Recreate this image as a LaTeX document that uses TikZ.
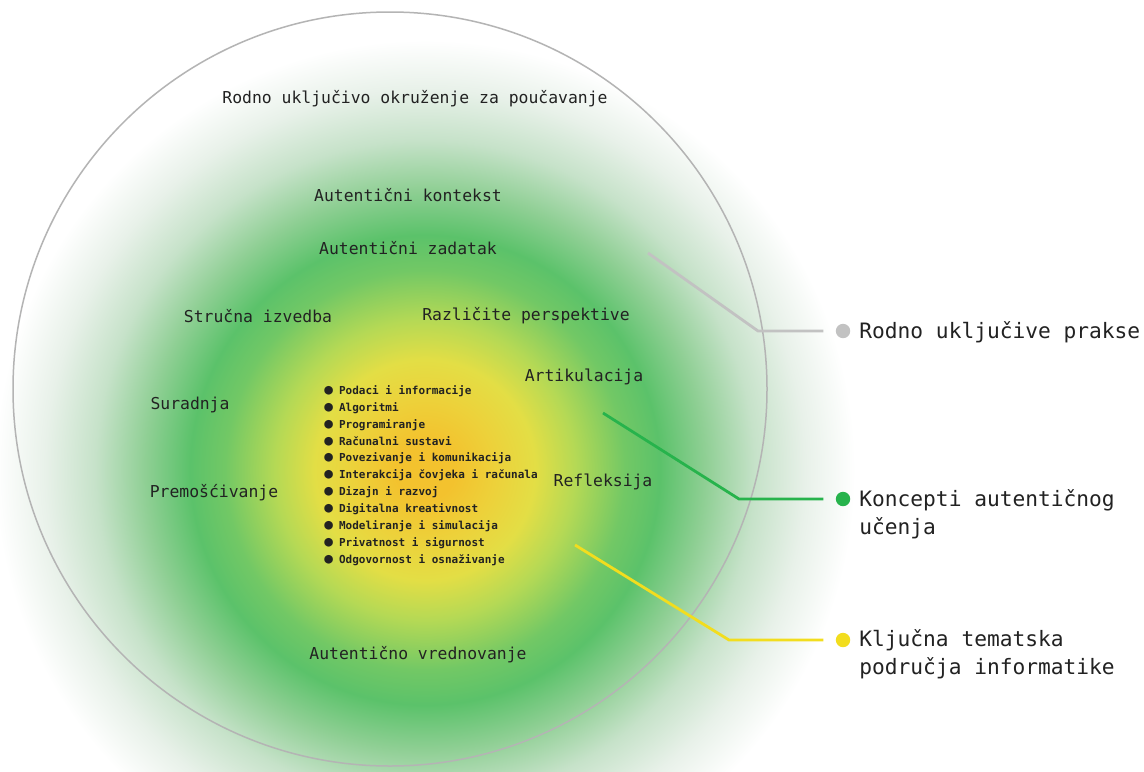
\documentclass[tikz,border=0pt]{standalone}
\usepackage{fontspec}
\newfontfamily\pmono{DejaVu Sans Mono}
\definecolor{cOr}{HTML}{F3C22E}
\definecolor{cOy}{HTML}{EDD13A}
\definecolor{cYe}{HTML}{E3DE45}
\definecolor{cYg}{HTML}{B5D955}
\definecolor{cGa}{HTML}{72C865}
\definecolor{cGr}{HTML}{5BC26A}
\definecolor{cGr2}{HTML}{8FCF94}
\definecolor{cLg}{HTML}{C6E2C9}
\definecolor{cVl}{HTML}{E8F1E9}
\definecolor{ink}{HTML}{222222}
\definecolor{ringgray}{HTML}{B4B4B4}
\definecolor{lgray}{HTML}{C2C2C2}
\definecolor{lgreen}{HTML}{27B34C}
\definecolor{lyellow}{HTML}{F2DD1E}
\pgfdeclareradialshading{glow}{\pgfpoint{0bp}{0bp}}{color(0bp)=(cOr); color(0.94bp)=(cOr); color(2.19bp)=(cOy); color(3.44bp)=(cYe); color(4.69bp)=(cYg); color(6.25bp)=(cGa); color(7.34bp)=(cGr); color(8.75bp)=(cGr2); color(10.31bp)=(cLg); color(11.88bp)=(cVl); color(13.44bp)=(white); color(50bp)=(white)}
\newcommand{\bul}{{\fontsize{7.2}{8.45}\selectfont ●}\hspace{3pt}}
\begin{document}
\begin{tikzpicture}[x=0.5pt,y=-0.5pt,
  lbl/.style={font=\pmono\fontsize{8.2}{10}\selectfont, text=ink, inner sep=0pt},
  leg/.style={font=\pmono\fontsize{10.6}{14}\selectfont, text=ink, inner sep=0pt, align=left},
  lst/.style={font=\pmono\bfseries\fontsize{5.5}{8.45}\selectfont, text=ink, inner sep=0pt, align=left},
  ldot/.style={circle, inner sep=0pt, minimum size=7.2pt},
  conn/.style={line width=1.4pt, shorten >=6pt}]
\useasboundingbox (0,0) rectangle (1144,771);
\fill[shading=glow] (-375,-330) rectangle (1225,1270);
\draw[ringgray, line width=0.75pt] (390,389) circle (377);

\node[lbl] (env) at (415,99) {Rodno uključivo okruženje za poučavanje};
\node[lbl] (kon) at (408,195) {Autentični kontekst};
\node[lbl] (zad) at (408,248) {Autentični zadatak};
\node[lbl] (izv) at (258,316) {Stručna izvedba};
\node[lbl] (per) at (526,316) {Različite perspektive};
\node[lbl] (art) at (584,377) {Artikulacija};
\node[lbl] (sur) at (190,405) {Suradnja};
\node[lbl] (pre) at (214,493) {Premošćivanje};
\node[lbl] (ref) at (603,482) {Refleksija};
\node[lbl] (vre) at (418,655) {Autentično vrednovanje};

\node[lst, anchor=north west] (list) at (324,385) {%
\bul Podaci i informacije\\
\bul Algoritmi\\
\bul Programiranje\\
\bul Računalni sustavi\\
\bul Povezivanje i komunikacija\\
\bul Interakcija čovjeka i računala\\
\bul Dizajn i razvoj\\
\bul Digitalna kreativnost\\
\bul Modeliranje i simulacija\\
\bul Privatnost i sigurnost\\
\bul Odgovornost i osnaživanje};

% legend dots
\node[ldot, fill=lgray] (d1) at (843,331) {};
\node[ldot, fill=lgreen] (d2) at (843,499) {};
\node[ldot, fill=lyellow] (d3) at (843,640) {};

\node[leg, anchor=west] (t1) at (859,332) {Rodno uključive prakse};
\node[leg, anchor=north west] (t2) at (859,489) {Koncepti autentičnog\\učenja};
\node[leg, anchor=north west] (t3) at (859,629) {Ključna tematska\\područja informatike};

\coordinate (s1) at (648,253);
\coordinate (b1) at (758,331);
\coordinate (s2) at (603,413);
\coordinate (b2) at (739,499);
\coordinate (s3) at (575,545);
\coordinate (b3) at (729,640);

\draw[conn, lgray] (s1) -- (b1) -- (d1);
\draw[conn, lgreen] (s2) -- (b2) -- (d2);
\draw[conn, lyellow] (s3) -- (b3) -- (d3);
\end{tikzpicture}
\end{document}
